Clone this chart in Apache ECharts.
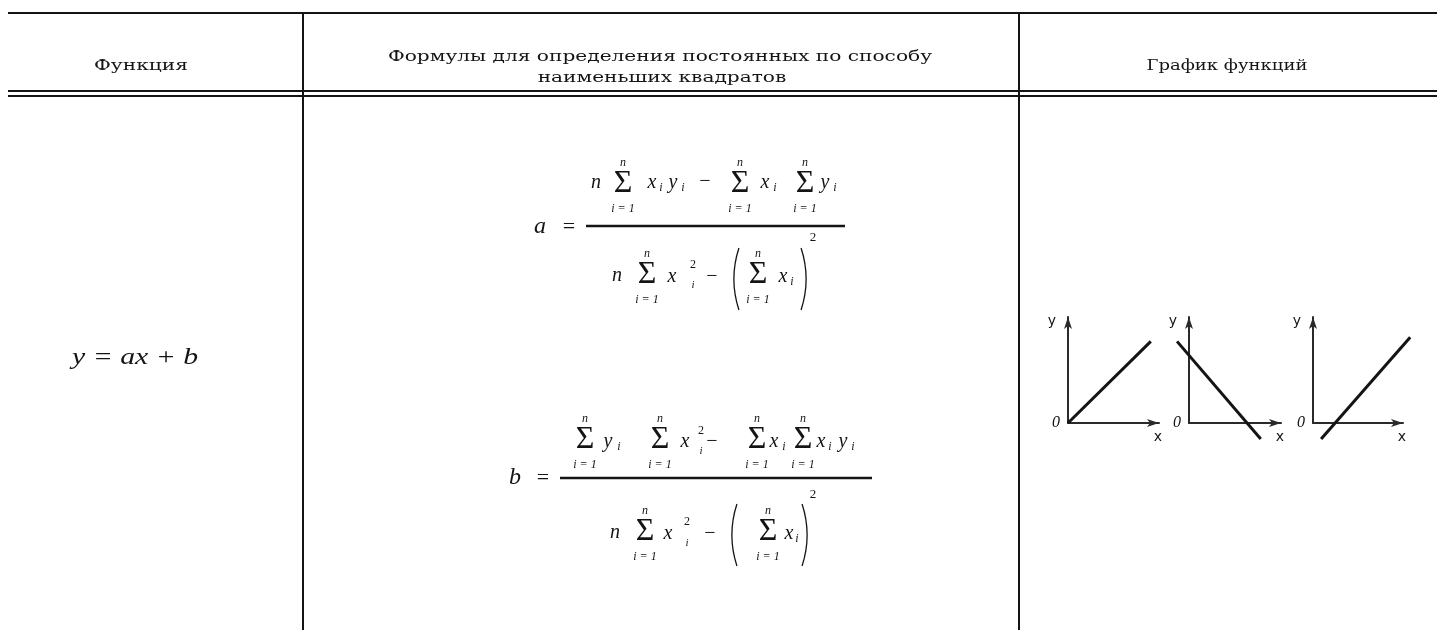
<!DOCTYPE html>
<html>
<head>
<meta charset="utf-8">
<title>y = ax + b</title>
<script src="https://cdn.jsdelivr.net/npm/echarts@6/dist/echarts.min.js"></script>
<style>
html, body { margin: 0; padding: 0; background: #fff; }
#main { width: 1437px; height: 630px; }
</style>
</head>
<body>
<div id="main"></div>
<script>
// table texts
var headFunc = 'Функция';
var headFormula = ['Формулы для определения постоянных по способу', 'наименьших квадратов'];
var headGraph = 'График функций';
var funcText = 'y = ax + b';

// three sketches of y = ax + b, line end points in axis units (origin at 0,0)
var lineX = [[0, 9.1], [-1.3, 7.8], [0.9, 10.8]];
var lineY = [[0, 7.7], [7.7, -1.5], [-1.5, 8.1]];
var axisNames = ['x', 'y'];
var axisTicks = [0, 10];

var INK = '#141414';
var SERIF = '"Liberation Serif"';
var myChart = echarts.init(document.getElementById('main'), null, { renderer: 'canvas' });

// stretch a text to the width it has in the scan (the scan is letter-spaced)
var measure = document.createElement('canvas').getContext('2d');
function fitScale(s, font, w) {
    measure.font = font;
    var k = w / measure.measureText(s).width;
    return Math.max(0.8, Math.min(1.35, k));
}

var parts = [];
function line(x1, y1, x2, y2, w) {
    parts.push({ type: 'line', silent: true, shape: { x1: x1, y1: y1, x2: x2, y2: y2 },
        style: { stroke: INK, lineWidth: w } });
}
function label(cx, cy, s, font, k) {
    parts.push({ type: 'text', silent: true, x: cx, y: cy, scaleX: k || 1,
        style: { text: s, font: font, fill: INK, align: 'center', verticalAlign: 'middle' } });
}
function T(x, y, s, size, st) {
    label(x, y, s, (st || 'italic') + ' ' + size + 'px ' + SERIF);
}
function sum(x, y) {
    T(x, y, 'Σ', 32, 'normal');
    T(x, y - 21, 'n', 12);
    T(x, y + 25, 'i = 1', 12);
}
function paren(x, cy, h, right) {
    var r = 100, a = Math.asin(h / 2 / r);
    parts.push({ type: 'arc', silent: true,
        shape: right ? { cx: x - r, cy: cy, r: r, startAngle: -a, endAngle: a }
                     : { cx: x + r, cy: cy, r: r, startAngle: Math.PI - a, endAngle: Math.PI + a },
        style: { stroke: INK, lineWidth: 1.3, fill: null } });
}

// table frame
line(8, 13, 1437, 13, 2);
line(8, 91, 1437, 91, 1.8);
line(8, 96, 1437, 96, 1.8);
line(303, 13, 303, 630, 2);
line(1019, 13, 1019, 630, 2);

// header
var headFont = '15px "DejaVu Serif"';
var headK = fitScale(headFormula[0], headFont, 544);
label(141, 66, headFunc, headFont, fitScale(headFunc, headFont, 107));
label(660, 57, headFormula[0], headFont, headK);
label(662, 78, headFormula[1], headFont, headK);
label(1227, 66, headGraph, headFont, fitScale(headGraph, headFont, 161));

// function
var funcFont = 'italic 23px ' + SERIF;
label(135, 358, funcText, funcFont, fitScale(funcText, funcFont, 126));

// formula a
T(540, 227, 'a', 24); T(569, 227, '=', 22, 'normal');
line(586, 226, 845, 226, 2.6);
T(596, 183, 'n', 20); sum(623, 184);
T(652, 183, 'x', 20); T(661, 188, 'i', 12); T(673, 183, 'y', 20); T(683, 188, 'i', 12);
T(705, 182, '−', 20, 'normal'); sum(740, 184);
T(765, 183, 'x', 20); T(775, 188, 'i', 12); sum(805, 184);
T(825, 183, 'y', 20); T(835, 188, 'i', 12);
T(617, 276, 'n', 20); sum(647, 275);
T(672, 277, 'x', 20); T(693, 265, '2', 12, 'normal'); T(693, 285, 'i', 11);
T(712, 277, '−', 20, 'normal'); paren(734, 279, 62, false); sum(758, 275);
T(783, 277, 'x', 20); T(792, 282, 'i', 12); paren(806, 279, 62, true);
T(813, 238, '2', 13, 'normal');

// formula b
T(515, 478, 'b', 24); T(543, 478, '=', 22, 'normal');
line(560, 478, 872, 478, 2.6);
sum(585, 440); T(608, 442, 'y', 20); T(619, 447, 'i', 12);
sum(660, 440); T(685, 442, 'x', 20); T(701, 431, '2', 12, 'normal'); T(701, 451, 'i', 11);
T(712, 442, '−', 20, 'normal'); sum(757, 440);
T(774, 442, 'x', 20); T(784, 447, 'i', 12); sum(803, 440);
T(821, 442, 'x', 20); T(830, 447, 'i', 12); T(843, 442, 'y', 20); T(853, 447, 'i', 12);
T(615, 533, 'n', 20); sum(645, 532);
T(668, 534, 'x', 20); T(687, 522, '2', 12, 'normal'); T(687, 543, 'i', 11);
T(710, 534, '−', 20, 'normal'); paren(732, 535, 62, false); sum(768, 532);
T(789, 534, 'x', 20); T(797, 539, 'i', 12); paren(807, 535, 62, true);
T(813, 495, '2', 13, 'normal');

// sketches
var boxes = [
    { left: 1068, top: 317, width: 91, height: 106 },
    { left: 1189, top: 317, width: 92, height: 106 },
    { left: 1313, top: 317, width: 90, height: 106 }
];
var axisLineStyle = { symbol: ['none', 'arrow'], symbolSize: [6, 12], lineStyle: { color: '#2a2a2a', width: 2 } };
var grids = [], xAxes = [], yAxes = [], series = [];
boxes.forEach(function (b, i) {
    grids.push(b);
    xAxes.push({
        gridIndex: i, type: 'value', min: axisTicks[0], max: axisTicks[1], interval: axisTicks[1],
        axisLine: Object.assign({ onZero: false }, axisLineStyle),
        axisTick: { show: false }, axisLabel: { show: false }, splitLine: { show: false },
        name: axisNames[0], nameLocation: 'end', nameGap: -1,
        nameTextStyle: { fontFamily: 'DejaVu Sans', fontSize: 14, color: INK, align: 'center', verticalAlign: 'top', padding: [7, 0, 0, 0] }
    });
    yAxes.push({
        gridIndex: i, type: 'value', min: axisTicks[0], max: axisTicks[1], interval: axisTicks[1],
        axisLine: Object.assign({ onZero: false }, axisLineStyle),
        axisTick: { show: false }, splitLine: { show: false },
        axisLabel: {
            formatter: function (v) { return v === axisTicks[0] ? String(v) : ''; },
            fontFamily: 'Liberation Serif', fontStyle: 'italic', fontSize: 16, color: INK, margin: 8, padding: [12, 0, 0, 0]
        },
        name: axisNames[1], nameLocation: 'end', nameGap: -4,
        nameTextStyle: { fontFamily: 'DejaVu Sans', fontSize: 14, color: INK, align: 'right', verticalAlign: 'middle', padding: [0, 12, 0, 0] }
    });
    // custom series: the sketched line runs past the axes, so it must not be clipped
    series.push({
        type: 'custom', xAxisIndex: i, yAxisIndex: i, clip: false, silent: true,
        data: [[lineX[i][0], lineY[i][0], lineX[i][1], lineY[i][1]]],
        encode: { x: [0, 2], y: [1, 3] },
        renderItem: function (params, api) {
            var p0 = api.coord([api.value(0), api.value(1)]);
            var p1 = api.coord([api.value(2), api.value(3)]);
            return { type: 'line', shape: { x1: p0[0], y1: p0[1], x2: p1[0], y2: p1[1] },
                style: { stroke: INK, lineWidth: 3 } };
        }
    });
});

var option = {
    backgroundColor: '#fff',
    animation: false,
    grid: grids,
    xAxis: xAxes,
    yAxis: yAxes,
    series: series,
    graphic: { elements: parts }
};
option && myChart.setOption(option);
</script>
</body>
</html>
